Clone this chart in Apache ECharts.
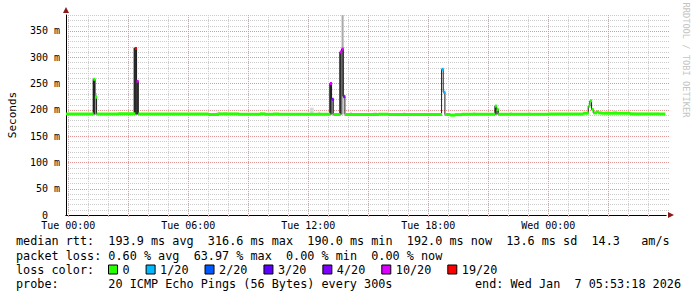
<!DOCTYPE html>
<html><head><meta charset="utf-8">
<script src="https://cdn.jsdelivr.net/npm/echarts@6/dist/echarts.min.js"></script>
<style>html,body{margin:0;padding:0;background:#fff}#c{width:697px;height:297px}</style>
</head><body><div id="c"></div>
<script>
// ---- time axis: hours since Tue 00:00 ----
const axisStart = -402 / 3600;              // Mon 23:53:18
const axisEnd = 29 + 53 / 60 + 18 / 3600;   // Wed 05:53:18
const dataEnd = 29 + 50 / 60;
const xTickHours = [0, 6, 12, 18, 24];
const xTickLabels = ['Tue 00:00', 'Tue 06:00', 'Tue 12:00', 'Tue 18:00', 'Wed 00:00'];

// ---- median RTT (ms) step runs: start hour, value, lost pings of 20 ----
const runStart = [-0.1117, 1.25, 1.3333, 1.4167, 2.5, 3.3333, 3.4167, 3.5, 5.25, 7.0, 7.5, 8.5, 9.5833, 9.8333, 10.25, 10.5,
  13.0833, 13.1667, 13.25, 13.5833, 13.6667, 13.75, 13.8333, 15.5, 16.0, 18.6667, 18.75, 18.8333, 19.0833, 19.3333, 19.6667,
  21.3333, 21.4167, 21.5, 24.0, 25.75, 26.0, 26.0833, 26.1667, 26.25, 26.4167, 26.5, 26.6667, 28.0833, 29.5];
const runMedian = [192.0, 258, 224, 192.0, 192.4, 316.6, 254, 191.8, 192.2, 191.0, 192.2, 191.5, 192.3, 191.5, 192.0, 191.3,
  250, 220, 191.0, 310, 315.5, 225, 191.2, 191.6, 191.2, 277, 233.5, 191.0, 190.0, 190.8, 191.3,
  207, 200.5, 191.5, 192.0, 193.5, 207, 217, 200.5, 194.2, 196.0, 194.0, 193.2, 192.2, 192.0];
const runLoss = [0, 0, 0, 0, 0, 19, 10, 0, 0, 0, 0, 0, 0, 0, 0, 0,
  10, 4, 0, 10, 10, 4, 0, 0, 0, 1, 1, 0, 0, 0, 0,
  0, 0, 0, 0, 0, 0, 0, 0, 0, 0, 0, 0, 0, 0];

// ---- smoke (ping spread): start hour, end hour, low ms, high ms, density 0..1 ----
const smokeStart = [1.2333, 1.3333, 1.3333, 3.2667, 3.4167, 12.0833, 12.5, 13.0667, 13.1667, 13.5667, 13.6667, 13.6667,
  21.3333, 21.4167, 7.4167, 7.75, 14.0833, 15.25, 16.75, 20.25, 22.0833, 23.0, 26.8333, 27.25];
const smokeEnd = [1.3333, 1.4167, 1.4167, 3.4167, 3.5, 12.25, 12.5833, 13.1667, 13.25, 13.6667, 13.75, 13.75,
  21.4167, 21.5, 7.5833, 7.9167, 14.1667, 15.4167, 16.8333, 20.3333, 22.1667, 23.0833, 27.0, 27.4167];
const smokeLow = [191, 191, 224, 191, 191, 192, 192, 191, 191, 191, 191, 226,
  191, 191, 191, 191, 191, 191, 191, 191, 191, 191, 192, 192];
const smokeHigh = [258, 224, 232, 318, 254, 204, 196.5, 251, 221, 310, 380, 316,
  207, 201, 196.5, 195.5, 196, 195.5, 195.5, 196, 196, 196, 197, 199];
const smokeDensity = [0.86, 0.45, 0.25, 0.8, 0.8, 0.15, 0.15, 0.84, 0.4, 0.78, 0.33, 0.62,
  0.8, 0.45, 0.14, 0.14, 0.14, 0.12, 0.12, 0.12, 0.12, 0.12, 0.12, 0.14];

// ---- loss colour legend ----
const lossLevels = [0, 1, 2, 3, 4, 10, 19];
const lossLabels = ['0', '1/20', '2/20', '3/20', '4/20', '10/20', '19/20'];
const lossColors = ['#26ff00', '#00b8ff', '#0059ff', '#5e00ff', '#7e00ff', '#dd00ff', '#ff0000'];

function lossColor(l) {
  let c = lossColors[0];
  for (let i = 0; i < lossLevels.length; i++) if (l >= lossLevels[i]) c = lossColors[i];
  return c;
}

// build derived data
const runs = runStart.map((s, i) => [s, i + 1 < runStart.length ? runStart[i + 1] : dataEnd, runMedian[i], runLoss[i]]);
const lineData = [];
runs.forEach(r => { lineData.push([r[0], r[2]]); lineData.push([r[1], r[2]]); });
const smoke = smokeStart.map((s, i) => [s, smokeEnd[i], smokeLow[i], smokeHigh[i], smokeDensity[i]]);
const gridHours = [];
for (let h = 0; h < 30; h++) gridHours.push([h]);
const hGrid = [];
for (let v = 10; v <= 380; v += 10) hGrid.push([v]);

const MONO = '"DejaVu Sans Mono"';
const charW = 7.105;
const fs = 11.8;
const txt = (x, y, s, extra) => Object.assign({
  type: 'text', x: x, y: y, silent: true,
  style: { text: s, font: fs + 'px ' + MONO, fill: '#000', textVerticalAlign: 'middle', verticalAlign: 'middle' }
}, extra || {});

const L0 = 16, Y1 = 241, Y2 = 255.5, Y3 = 269.5, Y4 = 283.5;
const graphics = [];
[[0, 'median rtt:'], [13, '193.9 ms avg'], [27, '316.6 ms max'], [41, '190.0 ms min'], [55, '192.0 ms now'],
 [69, '13.6 ms sd'], [81, '14.3'], [88, 'am/s']].forEach(p => graphics.push(txt(L0 + p[0] * charW, Y1, p[1])));
[[0, 'packet loss:'], [13, '0.60 % avg'], [25, '63.97 % max'], [38, '0.00 % min'], [50, '0.00 % now']]
  .forEach(p => graphics.push(txt(L0 + p[0] * charW, Y2, p[1])));
graphics.push(txt(L0, Y3, 'loss color:'));
let bx = 108;
lossLabels.forEach((lab, i) => {
  graphics.push({ type: 'rect', silent: true, shape: { x: bx + 0.5, y: Y3 - 4.5, width: 9, height: 9 },
    style: { fill: lossColors[i], stroke: '#000', lineWidth: 1 } });
  graphics.push(txt(bx + 14.5, Y3, lab));
  bx = bx + 14.5 + lab.length * charW + 16;
});
graphics.push(txt(L0, Y4, 'probe:'));
graphics.push(txt(L0 + 13 * charW, Y4, '20 ICMP Echo Pings (56 Bytes) every 300s'));
graphics.push(txt(475, Y4, 'end: Wed Jan'));
graphics.push(txt(475 + 14 * charW, Y4, '7 05:53:18 2026'));
graphics.push({ type: 'text', x: 686, y: 60, rotation: -Math.PI / 2, silent: true,
  style: { text: 'RRDTOOL / TOBI OETIKER', font: '8.7px ' + MONO, fill: '#c4c4c4',
    textAlign: 'center', align: 'center', textVerticalAlign: 'middle', verticalAlign: 'middle' } });

const GRAY = '#cbcbcb', RED = '#e39494', ARROW = '#8b1a1a';

const chart = echarts.init(document.getElementById('c'), null, { renderer: 'svg' });
chart.setOption({
  animation: false,
  backgroundColor: '#fff',
  grid: { left: 66, right: 31, top: 15.1, bottom: 82, containLabel: false, outerBoundsMode: 'none' },
  xAxis: [{
    type: 'value', min: axisStart, max: axisEnd, z: 3,
    axisLine: { show: true, onZero: false, lineStyle: { color: '#000', width: 1 } },
    axisTick: { show: true, customValues: gridHours.map(g => g[0]), length: 2, lineStyle: { color: '#d9a0a0' } },
    axisLabel: { customValues: xTickHours, margin: 5, fontFamily: 'DejaVu Sans Mono', fontSize: 10, color: '#000',
      formatter: v => { const i = xTickHours.indexOf(Math.round(v)); return i >= 0 ? xTickLabels[i] : ''; } },
    splitLine: { show: false }
  }, {
    type: 'value', min: axisStart, max: axisEnd, position: 'bottom', z: 2,
    axisLine: { show: true, onZero: false, lineStyle: { color: ARROW, width: 1 }, symbol: ['none', 'triangle'], symbolSize: [6, 6], symbolOffset: [0, 5] },
    axisTick: { show: false }, axisLabel: { show: false }, splitLine: { show: false }
  }],
  yAxis: [{
    type: 'value', min: 0, max: 380, interval: 10, z: 3,
    name: 'Seconds', nameLocation: 'middle', nameRotate: 90, nameGap: 48,
    nameTextStyle: { fontFamily: 'DejaVu Sans Mono', fontSize: 11, color: '#000' },
    axisLine: { show: true, onZero: false, lineStyle: { color: '#000', width: 1 } },
    axisTick: { show: false },
    axisLabel: { margin: 6, fontFamily: 'DejaVu Sans Mono', fontSize: 10, color: '#000',
      formatter: v => v % 50 === 0 ? (v === 0 ? '0\u00a0\u00a0' : v + ' m') : '' },
    splitLine: { show: false }
  }, {
    type: 'value', min: 0, max: 380, position: 'left', z: 2,
    axisLine: { show: true, onZero: false, lineStyle: { color: ARROW, width: 1 }, symbol: ['none', 'triangle'], symbolSize: [6, 6], symbolOffset: [0, 5] },
    axisTick: { show: false }, axisLabel: { show: false }, splitLine: { show: false }
  }],
  graphic: graphics,
  series: [{
    type: 'custom', name: 'hgrid', z: 1, silent: true, data: hGrid,
    encode: { y: 0 },
    renderItem: (params, api) => {
      const v = api.value(0);
      const l = api.coord([axisStart, v]), r = api.coord([axisEnd, v]);
      const y = Math.round(l[1]) + 0.5;
      return { type: 'line', shape: { x1: l[0], y1: y, x2: r[0] + 3, y2: y },
        style: { stroke: v % 50 === 0 ? RED : GRAY, lineWidth: 1, lineDash: [1, 1] } };
    }
  }, {
    type: 'custom', name: 'vgrid', z: 1, silent: true, data: gridHours,
    encode: { x: 0 },
    renderItem: (params, api) => {
      const h = api.value(0);
      const top = api.coord([h, 380]), bot = api.coord([h, 0]);
      const x = Math.round(top[0]) + 0.5;
      return { type: 'line', shape: { x1: x, y1: top[1], x2: x, y2: bot[1] + 2 },
        style: { stroke: h % 3 === 0 ? RED : GRAY, lineWidth: 1, lineDash: [1, 1] } };
    }
  }, {
    type: 'custom', name: 'smoke', z: 2, silent: true, clip: true, data: smoke,
    encode: { x: [0, 1], y: [2, 3] },
    renderItem: (params, api) => {
      const p0 = api.coord([api.value(0), api.value(3)]);
      const p1 = api.coord([api.value(1), api.value(2)]);
      const g = Math.round(255 * (1 - api.value(4)));
      return { type: 'rect', shape: { x: p0[0], y: p0[1], width: p1[0] - p0[0] + 0.4, height: p1[1] - p0[1] },
        style: { fill: 'rgb(' + g + ',' + g + ',' + g + ')' } };
    }
  }, {
    type: 'line', name: 'median', z: 3, silent: true, clip: true, data: lineData,
    showSymbol: false, symbol: 'none', lineStyle: { color: '#202020', width: 1 }
  }, {
    type: 'custom', name: 'loss', z: 4, silent: true, clip: true, data: runs,
    encode: { x: [0, 1], y: 2 },
    renderItem: (params, api) => {
      const p0 = api.coord([api.value(0), api.value(2)]);
      const p1 = api.coord([api.value(1), api.value(2)]);
      return { type: 'rect', shape: { x: p0[0], y: p0[1] - 1.5, width: p1[0] - p0[0] + 0.5, height: 3 },
        style: { fill: lossColor(api.value(3)) } };
    }
  }]
});
</script></body></html>
